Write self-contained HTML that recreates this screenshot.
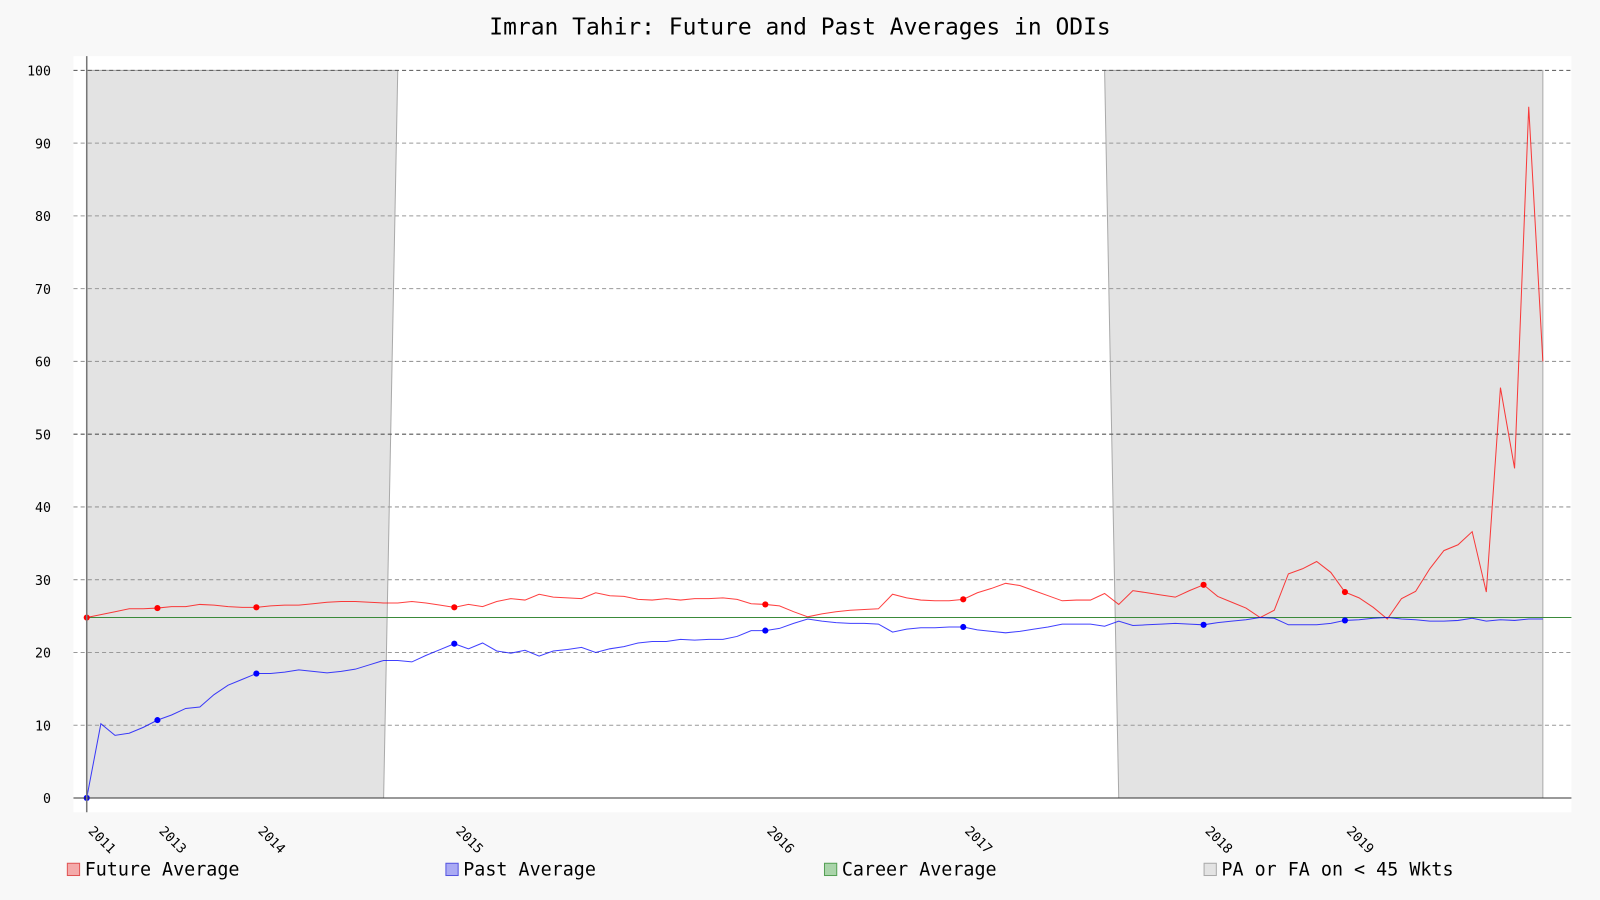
<!DOCTYPE html>
<html><head><meta charset="utf-8">
<style>
body{margin:0;background:#f8f8f8;}
svg{display:block;font-family:"DejaVu Sans Mono","Liberation Mono",monospace;}
</style></head>
<body>
<svg id="chart" width="1600" height="900" viewBox="0 0 1568 882">
<rect x="0" y="0" width="1568" height="882" fill="#f8f8f8"/>
<text x="784" y="34" text-anchor="middle" font-size="22.5" fill="#000">Imran Tahir: Future and Past Averages in ODIs</text>
<rect x="72" y="55" width="1468" height="741" fill="#fff"/>
<g id="shade"></g><g id="grid"></g><g id="series"></g><g id="axes"></g>
<g font-size="18">
 <rect x="66" y="846" width="12" height="12" fill="#f4aaaa" stroke="#e05555"/>
 <text x="83" y="858">Future Average</text>
 <rect x="437" y="846" width="12" height="12" fill="#aaaaf4" stroke="#5555e0"/>
 <text x="454" y="858">Past Average</text>
 <rect x="808" y="846" width="12" height="12" fill="#aad4aa" stroke="#55a055"/>
 <text x="825" y="858">Career Average</text>
 <rect x="1180" y="846" width="12" height="12" fill="#e3e3e3" stroke="#aaa"/>
 <text x="1197" y="858">PA or FA on &lt; 45 Wkts</text>
</g>
</svg>
<script>
const futureAvg=[24.8,25.2,25.6,26.0,26.0,26.1,26.3,26.3,26.6,26.5,26.3,26.2,26.2,26.4,26.5,26.5,26.7,26.9,27.0,27.0,26.9,26.8,26.8,27.0,26.8,26.5,26.2,26.6,26.3,27.0,27.4,27.2,28.0,27.6,27.5,27.4,28.2,27.8,27.7,27.3,27.2,27.4,27.2,27.4,27.4,27.5,27.3,26.7,26.6,26.4,25.6,24.9,25.3,25.6,25.8,25.9,26.0,28.0,27.5,27.2,27.1,27.1,27.3,28.2,28.8,29.5,29.2,28.5,27.8,27.1,27.2,27.2,28.1,26.6,28.5,28.2,27.9,27.6,28.5,29.3,27.7,26.9,26.1,24.8,25.8,30.8,31.5,32.5,31.0,28.3,27.5,26.2,24.6,27.4,28.4,31.5,34.0,34.8,36.6,28.3,56.4,45.3,95.0,60.0];
const pastAvg=[0,10.2,8.6,8.9,9.7,10.7,11.4,12.3,12.5,14.2,15.5,16.3,17.1,17.1,17.3,17.6,17.4,17.2,17.4,17.7,18.3,18.9,18.9,18.7,19.6,20.4,21.2,20.5,21.3,20.2,19.9,20.3,19.5,20.2,20.4,20.7,20.0,20.5,20.8,21.3,21.5,21.5,21.8,21.7,21.8,21.8,22.2,23.0,23.0,23.3,24.0,24.6,24.3,24.1,24.0,24.0,23.9,22.8,23.2,23.4,23.4,23.5,23.5,23.1,22.9,22.7,22.9,23.2,23.5,23.9,23.9,23.9,23.6,24.3,23.7,23.8,23.9,24.0,23.9,23.8,24.1,24.3,24.5,24.8,24.7,23.8,23.8,23.8,24.0,24.4,24.5,24.7,24.8,24.6,24.5,24.3,24.3,24.4,24.7,24.3,24.5,24.4,24.6,24.6];
const careerAvg=24.8;
const yearLabels=["2011","2013","2014","2015","2016","2017","2018","2019"];
const yearIdx=[0,5,12,26,48,62,79,89];
const yTicks=[0,10,20,30,40,50,60,70,80,90,100];
const shadeRegions=[[0,22,0,21],[72,103,73,103]];
const NS="http://www.w3.org/2000/svg";
const X0=85,X1=1512,Y0=782,Y100=69;
const n=futureAvg.length;
function xs(i){return X0+(X1-X0)*i/(n-1);}
function ys(v){return Y0-(Y0-Y100)*v/100;}
function mk(tag,attrs,parent){const e=document.createElementNS(NS,tag);for(const k in attrs)e.setAttribute(k,attrs[k]);parent.appendChild(e);return e;}
const shade=document.getElementById('shade'),grid=document.getElementById('grid'),ser=document.getElementById('series'),axes=document.getElementById('axes');
shadeRegions.forEach((r,k)=>{
 const p=mk('polygon',{points:`${xs(r[0])},${ys(100)} ${xs(r[1])},${ys(100)} ${xs(r[3])},${ys(0)} ${xs(r[2])},${ys(0)}`,fill:'#e3e3e3',stroke:'#aaa','stroke-width':1},shade);
 
 
});
yTicks.forEach(t=>{
 if(t>0){const l=mk('line',{x1:72,x2:1540,y1:ys(t),y2:ys(t),stroke:(t%50===0)?'#555':'#999','stroke-dasharray':'4,3','stroke-width':1},grid);
 
 }
 const tx=mk('text',{x:50,y:ys(t)+5,'text-anchor':'end','font-size':13,fill:'#000'},axes);
 tx.textContent=t;
 
 
});
let a=mk('line',{x1:72,x2:1540,y1:Y0,y2:Y0,stroke:'#333','stroke-width':1},axes);


a=mk('line',{x1:X0,x2:X0,y1:55,y2:796,stroke:'#777','stroke-width':1.5},axes);


yearLabels.forEach((lab,k)=>{
 const x=xs(yearIdx[k])+8;
 const t=mk('text',{x:x,y:818,'font-size':13,fill:'#000',transform:`rotate(45 ${x} 808)`},axes);
 t.textContent=lab;
 
 
});
let c=mk('line',{x1:X0,x2:1540,y1:ys(careerAvg),y2:ys(careerAvg),stroke:'#3a8a3a','stroke-width':1},ser);


function drawSeries(vals,color,name){
 const pl=mk('polyline',{points:vals.map((v,i)=>xs(i)+','+ys(v)).join(' '),fill:'none',stroke:color,'stroke-width':1,'stroke-opacity':0.75},ser);
 
 
 yearIdx.forEach(i=>{
  const d=mk('circle',{cx:xs(i),cy:ys(vals[i]),r:3,fill:color},ser);
  
  
 });
}
drawSeries(futureAvg,'#ff0000','future-average');
drawSeries(pastAvg,'#0000ff','past-average');
</script>
</body></html>
